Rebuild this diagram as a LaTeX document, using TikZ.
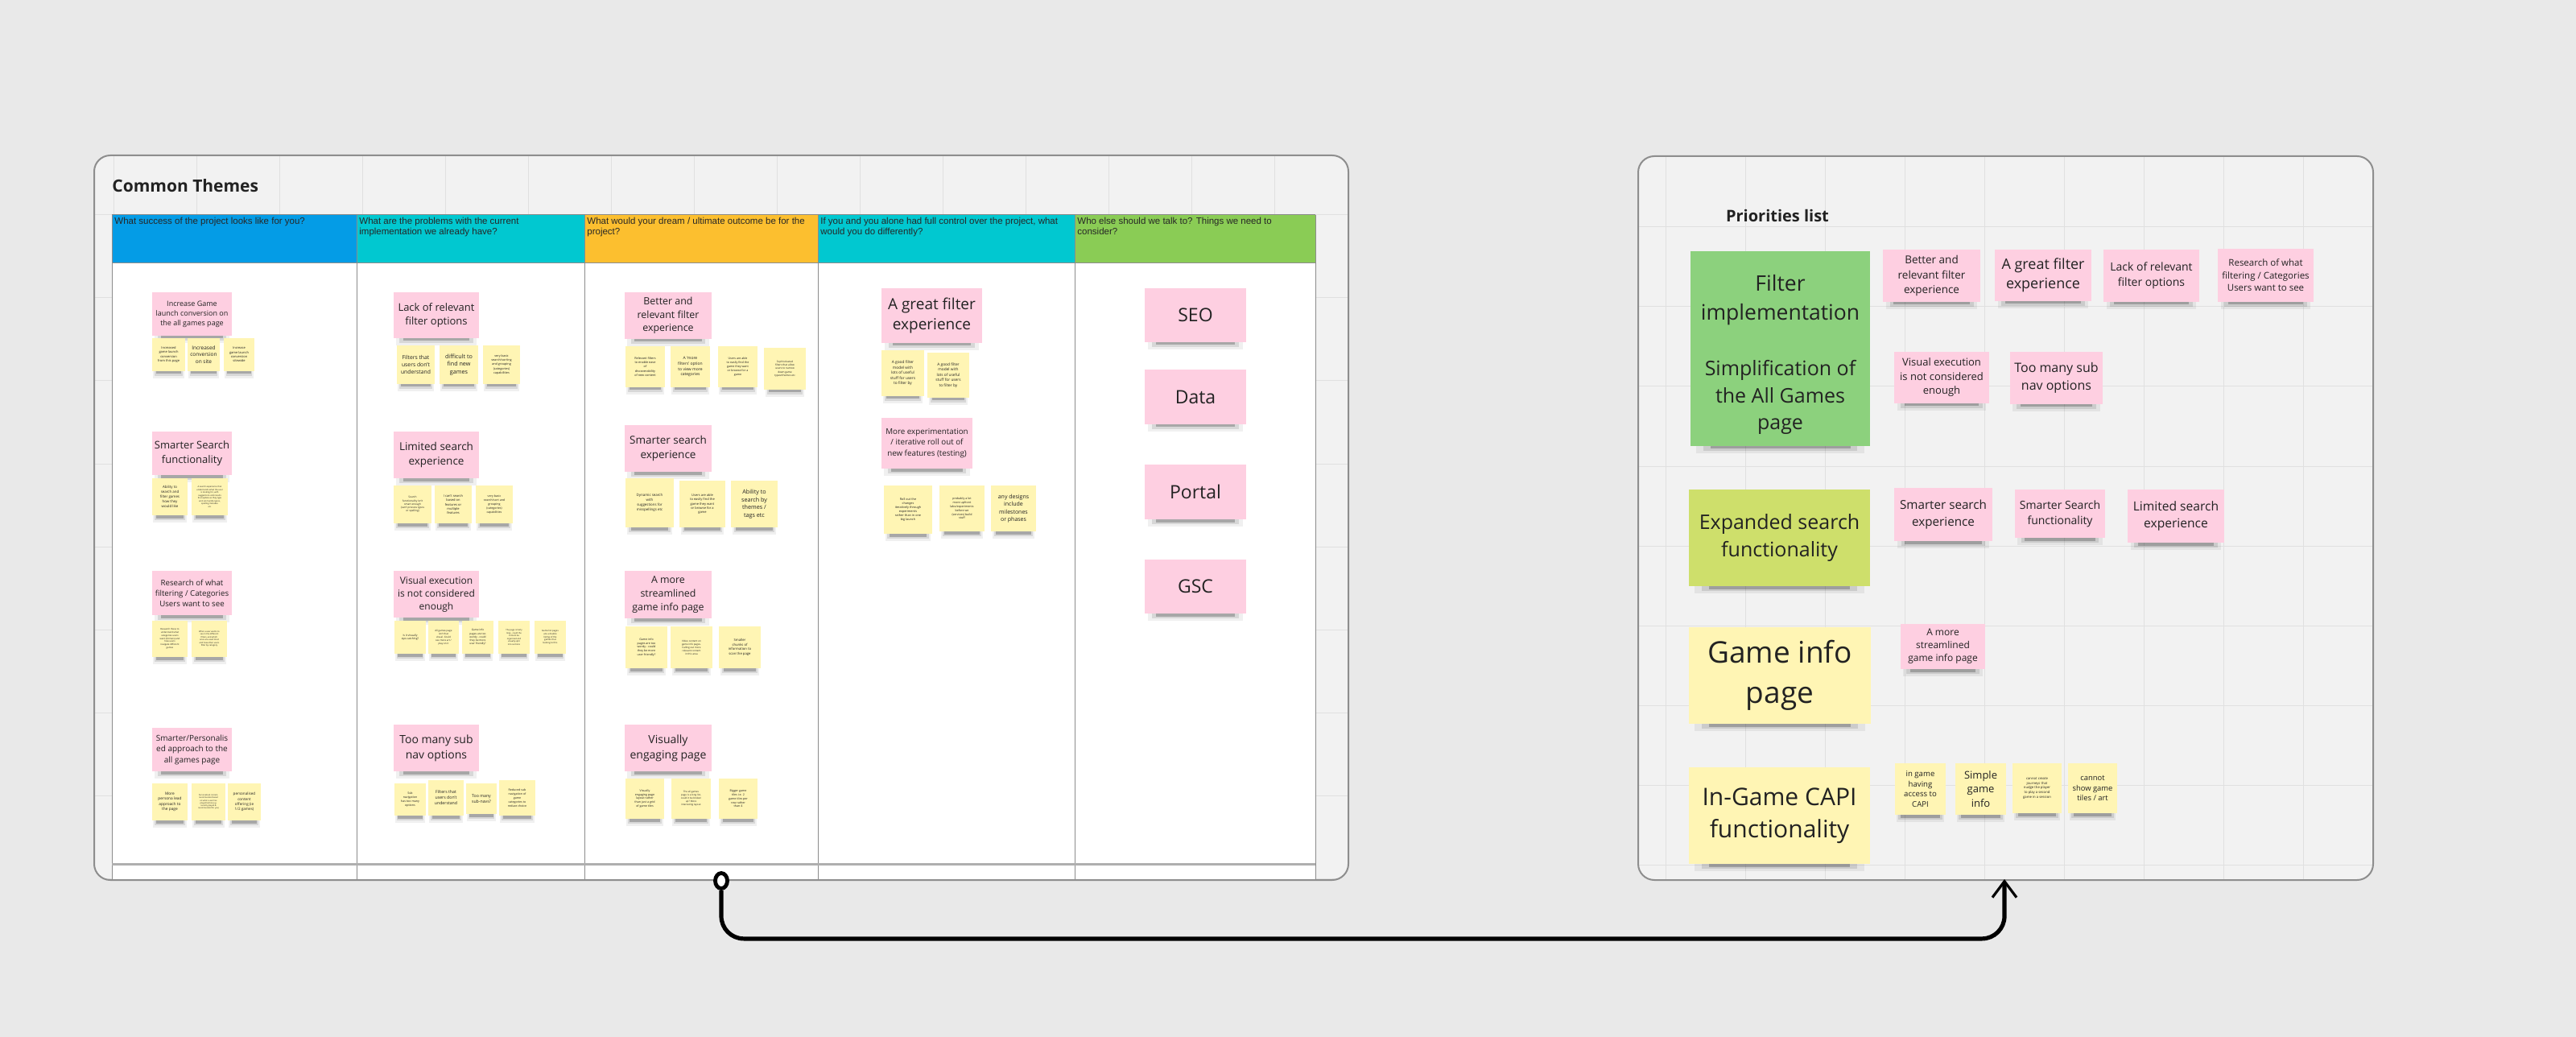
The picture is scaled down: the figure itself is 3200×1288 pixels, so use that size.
\documentclass[tikz,border=0pt]{standalone}
\usepackage{fontspec}
\setmainfont{Open Sans}
\newfontfamily\hdrfont{Liberation Sans}
\usetikzlibrary{arrows.meta,shapes.geometric}
\definecolor{bgout}{HTML}{E9E9E9}
\definecolor{bgframe}{HTML}{F2F2F2}
\definecolor{gridc}{HTML}{E0E0E0}
\definecolor{pinkst}{HTML}{FECFE1}
\definecolor{yelst}{HTML}{FFF5B4}
\definecolor{greenst}{HTML}{8CD17D}
\definecolor{limest}{HTML}{CEDF6B}
\definecolor{hblue}{HTML}{049CE6}
\definecolor{hcyan}{HTML}{01C8D0}
\definecolor{hyel}{HTML}{FCBF2F}
\definecolor{hgreen}{HTML}{8ACC55}
\definecolor{tline}{HTML}{8C8C8C}
\definecolor{framec}{HTML}{8E8E8E}
\definecolor{inkc}{HTML}{222222}
\newcommand\fsz[1]{\fontsize{#1}{\fpeval{1.34*#1}}\selectfont}
\tikzset{
  sticky/.style={inner sep=0pt, align=center, text=inkc},
  hdr/.style={inner sep=0pt, align=left, anchor=north west, text=black!85,
    font=\hdrfont\fontsize{5.75}{6.6}\selectfont},
  gridline/.style={draw=gridc, line width=0.5pt},
  tablerule/.style={draw=tline, line width=0.5pt},
  framebox/.style={draw=framec, line width=1pt, rounded corners=10pt},
  link/.style={draw=black, line width=2.6pt, rounded corners=14pt,
    -{Straight Barb[length=10pt,width=15pt,line width=1.6pt]}}
}
% sticky: name, x1, y1, x2, y2, fill, font size (pt), text
\newcommand\stk[8]{%
  \pgfmathsetmacro\stkw{#4-#2}%
  \fill[black, opacity=0.06] ({#2+0.03*\stkw},{#5-3}) rectangle ({#4-0.03*\stkw},{#5+9});
  \fill[black, opacity=0.10] ({#2+0.07*\stkw},{#5-3}) rectangle ({#4-0.07*\stkw},{#5+6});
  \fill[black, opacity=0.22] ({#2+0.11*\stkw},{#5-2}) rectangle ({#4-0.11*\stkw},{#5+3.5});
  \node[sticky, fill=#6, minimum width={\stkw*0.5pt}, minimum height={(#5-#3)*0.5pt}, font=\fsz{#7}] (#1) at ({(#2+#4)/2},{(#3+#5)/2}) {#8};
}
\begin{document}
\begin{tikzpicture}[x=0.5pt,y=-0.5pt]
\fill[bgout] (0,0) rectangle (3200,1288);
\useasboundingbox (0,0) rectangle (3200,1288);

% ---------------- left frame ----------------
\fill[bgframe, rounded corners=10pt] (117,193) rectangle (1675,1093);
\begin{scope}
\clip[rounded corners=10pt] (117,193) rectangle (1675,1093);
\foreach \gx in {141,244,...,1675} \draw[gridline] (\gx,193) -- (\gx,1093);
\foreach \gy in {267,370,...,1093} \draw[gridline] (117,\gy) -- (1675,\gy);
\fill[white] (139,327) rectangle (1634,1093);
\fill[hblue] (139,267) rectangle (443,327);
\fill[hcyan] (443,267) rectangle (726,327);
\fill[hyel] (726,267) rectangle (1016,327);
\fill[hcyan] (1016,267) rectangle (1335,327);
\fill[hgreen] (1335,267) rectangle (1634,327);
\foreach \cx in {139,443,726,1016,1335,1634} \draw[tablerule] (\cx,267) -- (\cx,1093);
\draw[tablerule] (139,267) -- (1634,267);
\draw[tablerule] (139,327) -- (1634,327);
\draw[draw=tline!70, line width=1.5pt] (139,1073) -- (1634,1073);
\end{scope}
\draw[framebox] (117,193) rectangle (1675,1093);

\node[anchor=west, inner sep=0pt, font=\bfseries\fsz{10.5}, text=inkc] (ctitle) at (139,231) {Common Themes};

\node[hdr] (h1) at (142,270) {What success of the project looks like for you?};
\node[hdr] (h2) at (446,270) {What are the problems with the current\\implementation we already have?};
\node[hdr] (h3) at (729,270) {What would your dream / ultimate outcome be for the\\project?};
\node[hdr] (h4) at (1019,270) {If you and you alone had full control over the project, what\\would you do differently?};
\node[hdr] (h5) at (1338,270) {Who else should we talk to? Things we need to\\consider?};

% column 1
\stk{c1p1}{189}{363}{288}{417}{pinkst}{4.5}{Increase Game\\launch conversion on\\the all games page}
\stk{c1y1}{189}{420}{230}{461}{yelst}{2}{Increased\\game launch\\conversion\\from this page}
\stk{c1y2}{233}{420}{273}{461}{yelst}{3.25}{Increased\\conversion\\on site}
\stk{c1y3}{278}{420}{316}{461}{yelst}{2}{Increase\\game launch\\conversion\\sitewide}
\stk{c1p2}{189}{536}{288}{590}{pinkst}{6.5}{Smarter Search\\functionality}
\stk{c1y4}{189}{594}{233}{640}{yelst}{2.2}{Ability to\\search and\\filter games\\how they\\would like}
\stk{c1y5}{238}{594}{283}{640}{yelst}{1.3}{A search experience that\\understands what the user\\is looking for, with\\suggestions and results\\that update as they type\\and can handle typos,\\spelling mistakes\\etc}
\stk{c1p3}{189}{709}{288}{764}{pinkst}{4.85}{Research of what\\filtering / Categories\\Users want to see}
\stk{c1y6}{189}{771}{233}{816}{yelst}{1.4}{Research these to\\understand what\\categories users\\want (formats) and\\how users\\navigate different\\games}
\stk{c1y7}{238}{771}{282}{816}{yelst}{1.3}{What a user wants to\\see in the different\\filters, and which\\ones are used most\\and how often users\\filter by category}
\stk{c1p4}{189}{904}{288}{958}{pinkst}{5}{Smarter/Personalis\\ed approach to the\\all games page}
\stk{c1y8}{189}{973}{233}{1019}{yelst}{2.4}{More\\persona lead\\approach to\\the page}
\stk{c1y9}{238}{973}{280}{1019}{yelst}{1.2}{Personalised content,\\recommended based\\on what a user has\\played before (e.g.\\recently played \&\\recommended for you)}
\stk{c1y10}{283}{973}{324}{1019}{yelst}{2.3}{personalised\\content\\offering (ie\\1/2 games)}

% column 2
\stk{c2p1}{489}{363}{595}{420}{pinkst}{6.5}{Lack of relevant\\filter options}
\stk{c2y1}{493}{429}{540}{477}{yelst}{3.4}{Filters that\\users don't\\understand}
\stk{c2y2}{546}{429}{594}{477}{yelst}{3.6}{difficult to\\find new\\games}
\stk{c2y3}{600}{429}{646}{477}{yelst}{1.9}{very basic\\search/sorting\\and grouping\\(categories)\\capabilities}
\stk{c2p2}{489}{536}{595}{594}{pinkst}{6.75}{Limited search\\experience}
\stk{c2y4}{489}{603}{536}{650}{yelst}{1.6}{Search\\functionality isn't\\smart enough\\(can't process typos\\or spelling)}
\stk{c2y5}{540}{603}{586}{650}{yelst}{2}{I can't search\\based on\\features or\\multiple\\features}
\stk{c2y6}{591}{603}{637}{650}{yelst}{1.8}{very basic\\search/sort and\\grouping\\(categories)\\capabilities}
\stk{c2p3}{489}{709}{595}{767}{pinkst}{6}{Visual execution\\is not considered\\enough}
\stk{c2y7}{490}{771}{529}{812}{yelst}{1.7}{Is it visually\\eye-catching?}
\stk{c2y8}{532}{771}{570}{812}{yelst}{1.5}{All games page\\isn't that\\visual. Could\\see more art /\\play on it}
\stk{c2y9}{574}{771}{613}{812}{yelst}{1.6}{Game info\\pages are too\\wordy - could\\they be more\\user friendly?}
\stk{c2y10}{619}{771}{658}{812}{yelst}{1.3}{The page is fairly\\long - could the\\content be\\organised and\\visually split\\into sections}
\stk{c2y11}{664}{771}{703}{812}{yelst}{1.4}{Game list pages\\are a double\\listing of the\\games that\\belong to this}
\stk{c2p4}{489}{900}{595}{958}{pinkst}{7}{Too many sub\\nav options}
\stk{c2y12}{490}{973}{529}{1013}{yelst}{1.8}{Sub\\navigation\\has too many\\options}
\stk{c2y13}{532}{969}{576}{1013}{yelst}{2.6}{Filters that\\users don't\\understand}
\stk{c2y14}{579}{973}{617}{1011}{yelst}{2.6}{Too many\\sub-navs?}
\stk{c2y15}{620}{969}{665}{1013}{yelst}{1.8}{Reduced sub\\navigation of\\game\\categories to\\reduce choice}

% column 3
\stk{c3p1}{776}{363}{884}{421}{pinkst}{6.2}{Better and\\relevant filter\\experience}
\stk{c3y1}{777}{430}{826}{481}{yelst}{1.9}{Relevant filters\\to enable ease\\of\\discoverability\\of new content}
\stk{c3y2}{833}{430}{882}{481}{yelst}{2.5}{A `more\\filters' option\\to view more\\categories}
\stk{c3y3}{892}{430}{941}{481}{yelst}{1.8}{Users are able\\to easily find the\\game they want\\or browse for a\\game}
\stk{c3y4}{949}{432}{1001}{484}{yelst}{1.6}{Sophisticated\\filters that allow\\users to narrow\\down game\\types/themes etc}
\stk{c3p2}{776}{528}{884}{586}{pinkst}{6.75}{Smarter search\\experience}
\stk{c3y5}{777}{594}{837}{655}{yelst}{2.2}{Dynamic search\\with\\suggestions for\\misspellings etc}
\stk{c3y6}{844}{597}{901}{655}{yelst}{2}{Users are able\\to easily find the\\game they want\\or browse for a\\game}
\stk{c3y7}{908}{597}{966}{655}{yelst}{3.6}{Ability to\\search by\\themes /\\tags etc}
\stk{c3p3}{776}{709}{884}{768}{pinkst}{6.2}{A more\\streamlined\\game info page}
\stk{c3y8}{777}{778}{829}{830}{yelst}{1.8}{Game info\\pages are too\\wordy - could\\they be more\\user friendly?}
\stk{c3y9}{833}{778}{885}{830}{yelst}{1.5}{Video content on\\game info pages.\\Calling out more\\relevant content\\in this area}
\stk{c3y10}{893}{778}{945}{830}{yelst}{2.1}{Smaller\\chunks of\\information to\\scan the page}
\stk{c3p4}{776}{900}{884}{958}{pinkst}{7}{Visually\\engaging page}
\stk{c3y11}{777}{967}{825}{1017}{yelst}{1.8}{Visually\\engaging page\\layout rather\\than just a grid\\of game tiles}
\stk{c3y12}{834}{967}{883}{1017}{yelst}{1.5}{The all games\\page is a long list,\\could it be broken\\up? More\\interesting layout}
\stk{c3y13}{893}{967}{941}{1017}{yelst}{1.8}{Bigger game\\tiles i.e. 2\\game tiles per\\row rather\\than 4}

% column 4
\stk{c4p1}{1095}{358}{1220}{426}{pinkst}{9.5}{A great filter\\experience}
\stk{c4y1}{1095}{435}{1148}{492}{yelst}{2.4}{A good filter\\model with\\lots of useful\\stuff for users\\to filter by}
\stk{c4y2}{1152}{438}{1204}{494}{yelst}{2.4}{A good filter\\model with\\lots of useful\\stuff for users\\to filter by}
\stk{c4p2}{1095}{519}{1208}{582}{pinkst}{4.9}{More experimentation\\/ iterative roll out of\\new features (testing)}
\stk{c4y3}{1098}{603}{1158}{663}{yelst}{1.9}{Roll out the\\changes\\iteratively through\\experiments\\rather than in one\\big launch}
\stk{c4y4}{1167}{603}{1223}{660}{yelst}{1.8}{probably a lot\\more upfront\\labs/experiments\\before we\\(services) build\\stuff}
\stk{c4y5}{1231}{603}{1287}{660}{yelst}{3.5}{any designs\\include\\milestones\\or phases}

% column 5
\stk{c5p1}{1422}{358}{1548}{425}{pinkst}{11.5}{SEO}
\stk{c5p2}{1422}{459}{1548}{527}{pinkst}{11.5}{Data}
\stk{c5p3}{1422}{577}{1548}{645}{pinkst}{11.5}{Portal}
\stk{c5p4}{1422}{695}{1548}{762}{pinkst}{11.5}{GSC}

% ---------------- right frame ----------------
\fill[bgframe, rounded corners=10pt] (2035,194) rectangle (2948,1093);
\begin{scope}
\clip[rounded corners=10pt] (2035,194) rectangle (2948,1093);
\foreach \gx in {2069,2168,...,2948} \draw[gridline] (\gx,194) -- (\gx,1093);
\foreach \gy in {282,381,...,1093} \draw[gridline] (2035,\gy) -- (2948,\gy);
\end{scope}
\draw[framebox] (2035,194) rectangle (2948,1093);

\node[inner sep=0pt, font=\bfseries\fsz{10}, text=inkc] (ptitle) at (2208,268) {Priorities list};

\stk{rg1}{2100}{312}{2323}{433}{greenst}{13.25}{Filter\\implementation}
\stk{rg2}{2100}{433}{2323}{554}{greenst}{12.5}{Simplification of\\the All Games\\page}
\stk{rl1}{2098}{608}{2323}{728}{limest}{12.5}{Expanded search\\functionality}
\stk{ry1}{2098}{779}{2324}{899}{yelst}{18.5}{Game info\\page}
\stk{ry2}{2098}{953}{2323}{1073}{yelst}{15}{In-Game CAPI\\functionality}

\stk{rp1}{2339}{310}{2460}{375}{pinkst}{6.75}{Better and\\relevant filter\\experience}
\stk{rp2}{2478}{310}{2598}{374}{pinkst}{9}{A great filter\\experience}
\stk{rp3}{2613}{310}{2732}{375}{pinkst}{7}{Lack of relevant\\filter options}
\stk{rp4}{2755}{309}{2874}{375}{pinkst}{5.75}{Research of what\\filtering / Categories\\Users want to see}
\stk{rp5}{2353}{437}{2471}{501}{pinkst}{6.5}{Visual execution\\is not considered\\enough}
\stk{rp6}{2497}{437}{2612}{502}{pinkst}{8}{Too many sub\\nav options}
\stk{rp7}{2353}{606}{2475}{672}{pinkst}{7.6}{Smarter search\\experience}
\stk{rp8}{2503}{608}{2615}{668}{pinkst}{7}{Smarter Search\\functionality}
\stk{rp9}{2643}{608}{2763}{674}{pinkst}{7.8}{Limited search\\experience}
\stk{rp10}{2361}{775}{2466}{831}{pinkst}{6}{A more\\streamlined\\game info page}
\stk{ry3}{2354}{948}{2417}{1012}{yelst}{4.8}{in game\\having\\access to\\CAPI}
\stk{ry4}{2429}{948}{2492}{1012}{yelst}{6.5}{Simple\\game\\info}
\stk{ry5}{2500}{948}{2561}{1010}{yelst}{2.1}{cannot create\\journeys that\\nudge the player\\to play a second\\game in a session}
\stk{ry6}{2569}{948}{2630}{1010}{yelst}{4.7}{cannot\\show game\\tiles / art}

% ---------------- connector ----------------
\node[ellipse, draw=black, line width=2.4pt, fill=white, minimum width=7.5pt, minimum height=9.5pt, inner sep=0pt] (src) at (896,1094) {};
\coordinate (dst) at (2490,1092);
\draw[link] (src.south) -- ++(0,60) -| (dst);
\end{tikzpicture}
\end{document}
